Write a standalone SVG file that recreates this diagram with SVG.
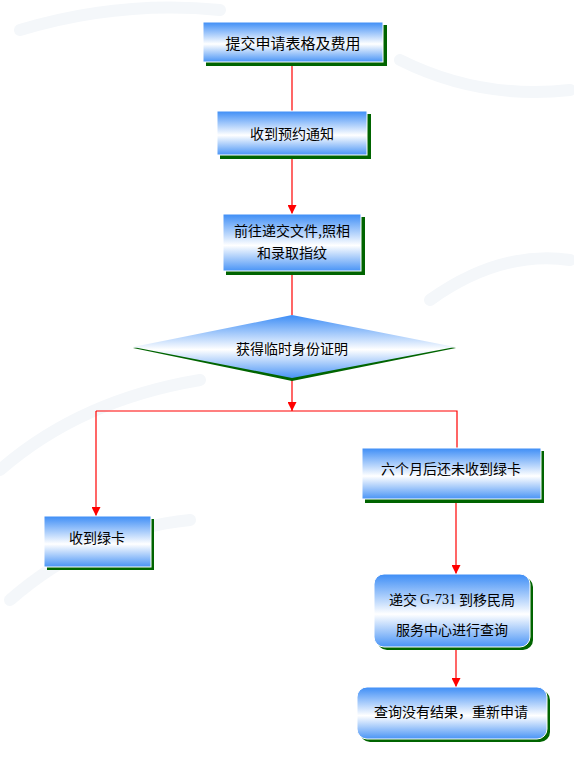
<svg xmlns="http://www.w3.org/2000/svg" width="574" height="778" viewBox="0 0 574 778">
<defs>
<linearGradient id="g" x1="0" y1="0" x2="0" y2="1">
<stop offset="0" stop-color="#3d8df6"/>
<stop offset="0.55" stop-color="#ffffff"/>
<stop offset="1" stop-color="#4994f6"/>
</linearGradient>
<marker id="arr" viewBox="0 0 10 10" refX="10" refY="5" markerWidth="9" markerHeight="9" markerUnits="userSpaceOnUse" orient="auto">
<path d="M0,0 L10,5 L0,10 z" fill="#ff0000"/>
</marker>
<style>
.box{fill:url(#g);stroke:#ffffff;stroke-width:1}
.sh{fill:#006400}
.t{font-family:"Noto Sans CJK SC","Noto Sans",sans-serif;font-size:14px;fill:#000;text-anchor:middle;dominant-baseline:central}
.c{fill:none;stroke:#ff0000;stroke-width:1.2}
.bg{fill:none;stroke:#f4f7fa;stroke-width:12;stroke-linecap:round}
</style>
</defs>
<rect width="574" height="778" fill="#ffffff"/>
<g id="background">
<path class="bg" d="M20,30 Q120,0 220,10"/>
<path class="bg" d="M0,470 Q80,400 200,380"/>
<path class="bg" d="M10,600 Q90,530 190,520"/>
<path class="bg" d="M400,60 Q480,100 570,90"/>
<path class="bg" d="M430,300 Q500,250 570,260"/>
</g>
<g id="connectors">
<line class="c" x1="292" y1="62" x2="292" y2="111"/>
<line class="c" x1="292" y1="155" x2="292" y2="214" marker-end="url(#arr)"/>
<line class="c" x1="292" y1="271" x2="292" y2="315"/>
<line class="c" x1="292" y1="379" x2="292" y2="411" marker-end="url(#arr)"/>
<polyline class="c" points="96,411 457,411 457,448"/>
<line class="c" x1="96" y1="411" x2="96" y2="516" marker-end="url(#arr)"/>
<line class="c" x1="456" y1="502" x2="456" y2="574" marker-end="url(#arr)"/>
<line class="c" x1="456" y1="647" x2="456" y2="687" marker-end="url(#arr)"/>
</g>
<g id="n1">
<rect class="sh" x="206" y="25" width="181" height="41"/>
<rect class="box" x="203" y="22" width="180" height="40"/>
<text class="t" x="293" y="42" style="font-size:15px">提交申请表格及费用</text>
</g>
<g id="n2">
<rect class="sh" x="220" y="114" width="151" height="45"/>
<rect class="box" x="217" y="111" width="150" height="44"/>
<text class="t" x="292" y="133">收到预约通知</text>
</g>
<g id="n3">
<rect class="sh" x="226" y="217" width="139" height="58"/>
<rect class="box" x="223" y="214" width="138" height="57"/>
<text class="t" x="292" y="230">前往递交文件,照相</text>
<text class="t" x="292" y="252">和录取指纹</text>
</g>
<g id="n4">
<polygon class="sh" points="133,348 292,317 456,348 292,381"/>
<polygon fill="url(#g)" points="133,347 292,315 455,347 292,378"/>
<text class="t" x="292" y="348">获得临时身份证明</text>
</g>
<g id="n5">
<rect class="sh" x="47" y="519" width="107" height="51"/>
<rect class="box" x="44" y="516" width="107" height="51"/>
<text class="t" x="97" y="537">收到绿卡</text>
</g>
<g id="n6">
<rect class="sh" x="365" y="451" width="179" height="52"/>
<rect class="box" x="362" y="448" width="179" height="51"/>
<text class="t" x="451" y="468">六个月后还未收到绿卡</text>
</g>
<g id="n7">
<rect class="sh" x="377" y="577" width="156" height="73" rx="10"/>
<rect class="box" x="374" y="574" width="156" height="73" rx="10"/>
<text class="t" x="452" y="599">递交 <tspan style="font-family:'Liberation Serif',serif">G-731</tspan> 到移民局</text>
<text class="t" x="452" y="629">服务中心进行查询</text>
</g>
<g id="n8">
<rect class="sh" x="360" y="690" width="190" height="52" rx="10"/>
<rect class="box" x="357" y="687" width="190" height="52" rx="10"/>
<text class="t" x="451" y="711">查询没有结果，重新申请</text>
</g>
</svg>
